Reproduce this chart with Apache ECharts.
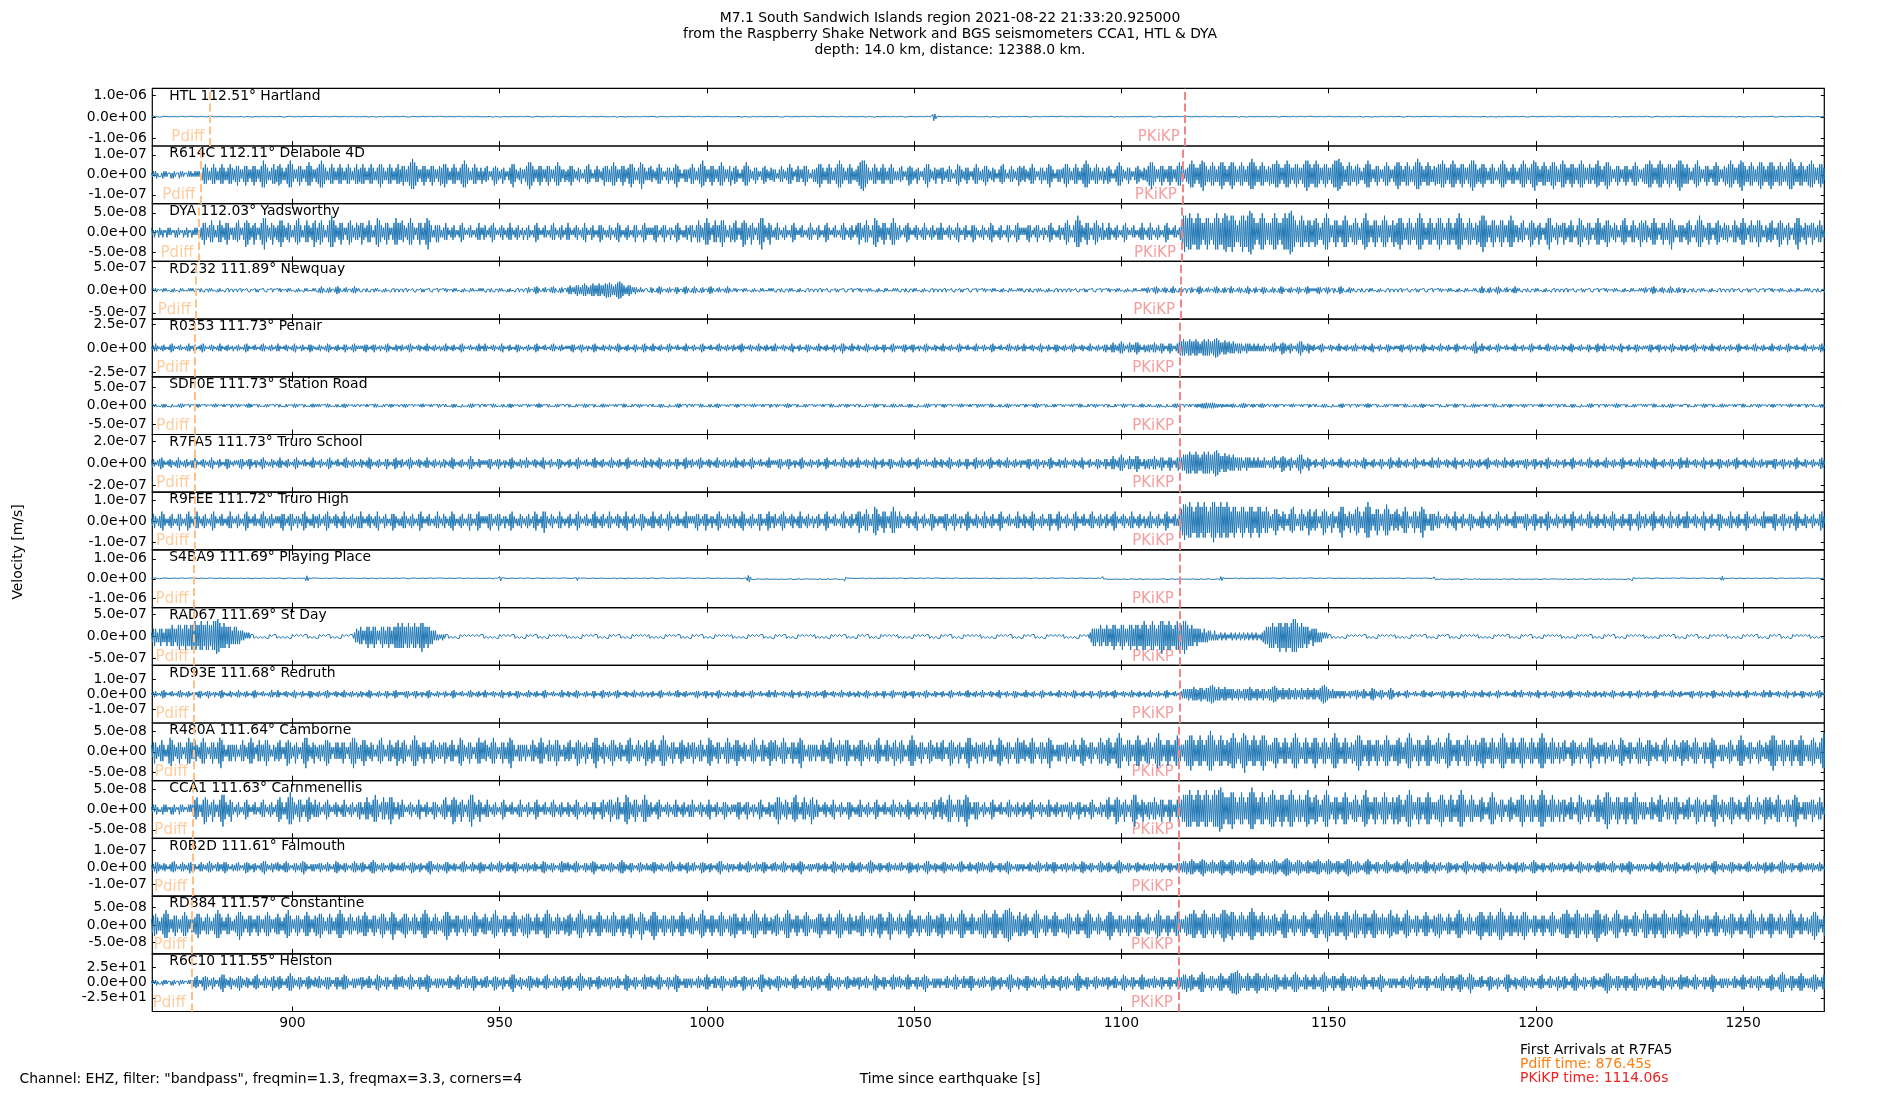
<!DOCTYPE html>
<html>
<head>
<meta charset="utf-8">
<script src="https://cdn.jsdelivr.net/npm/echarts@6/dist/echarts.min.js"></script>
<style>html,body{margin:0;padding:0;background:#fff}#c{width:1900px;height:1100px}</style>
</head>
<body>
<div id="c"></div>
<script>
// ---------- DATA ----------
const stationCodes = ['HTL','R614C','DYA','RD232','R0353','SDF0E','R7FA5','R9FEE','S4BA9','RAD67','RD93E','R480A','CCA1','R0B2D','RD884','R6C10'];
const distancesDeg = ['112.51','112.11','112.03','111.89','111.73','111.73','111.73','111.72','111.69','111.69','111.68','111.64','111.63','111.61','111.57','111.55'];
const placeNames = ['Hartland','Delabole 4D','Yadsworthy','Newquay','Penair','Station Road','Truro School','Truro High','Playing Place','St Day','Redruth','Camborne','Carnmenellis','Falmouth','Constantine','Helston'];
const yTickValues = [1e-6,1e-7,5e-8,5e-7,2.5e-7,5e-7,2e-7,1e-7,1e-6,5e-7,1e-7,5e-8,5e-8,1e-7,5e-8,25];
const yLimits = [1.34e-6,1.44e-7,7.3e-8,6.4e-7,3.0e-7,7.75e-7,2.66e-7,1.37e-7,1.45e-6,6.5e-7,1.9e-7,7.05e-8,7.1e-8,1.7e-7,8.25e-8,47.5];
// value of digit 9 in each trace string
const peakAmps = [1.67e-7,7.99e-8,5.49e-8,1.93e-7,1.01e-7,8.06e-8,1.20e-7,1.01e-7,1.66e-7,3.90e-7,6.12e-8,5.13e-8,5.41e-8,5.30e-8,4.78e-8,19.8];
const pdiffTimes = [880.1,877.9,877.5,876.8,876.45,876.45,876.45,876.4,876.3,876.3,876.25,876.1,876.0,875.9,875.8,875.6];
const pkikpTimes = [1115.4,1114.7,1114.5,1114.3,1114.06,1114.06,1114.06,1114.05,1114.0,1114.0,1113.98,1113.9,1113.9,1113.85,1113.8,1113.75];
const xTickValues = [900,950,1000,1050,1100,1150,1200,1250];
const xRange = [866.2, 1269.6];
const traceStart = 866;     // s, first peak of each trace
const peakSpacing = 0.25;   // s between successive peaks (alternating up/down)
const chunkSeconds = 10;    // each space-separated group covers 10 s

// successive peak amplitudes (0-9, digit 9 = peakAmps[i]), one 40-digit group per 10 s
const traceHTL = `1121221101122121101212211012212110112121 2112101221121012212110121221101211221012 1012112211012112110122121011211210112211 1121221101122121101212211012212110112121 2112101221121012212110121221101211221012 1012112211012112110122121011211210112211 1121221101122121101212211012212110112121 2112101221121012212110121221101211221012 1012112211012112110122121011211210112211 1121221101122121101212211012212110112121 2112101221121012212110121221101211221012 1012112211012112110122121011211210112211 1121221101122121101212211012212110112121 2112101221121012212110121221101211221012 1012112211012112110122121011211210112211 1121221101122121101212211012212110112121 2112101221121012212110121221101211221012 1012112211012112110122121011211210112211 1121221101122121101212211012212114798421 2112101221121012212110121221101211221012 1012112211012112110122121011211210112211 1121221101122121101212211012212110112121 2112101221121012212110121221101211221012 1012112211012112110122121011211210112211 1121221101122121101212211012212110112121 2112101221121012212110121221101211221012 1012112211012112110122121011211210112211 1121221101122121101212211012212110112121 2112101221121012212110121221101211221012 1012112211012112110122121011211210112211 1121221101122121101212211012212110112121 2112101221121012212110121221101211221012 1012112211012112110122121011211210112211 1121221101122121101212211012212110112121 2112101221121012212110121221101211221012 1012112211012112110122121011211210112211 1121221101122121101212211012212110112121 2112101221121012212110121221101211221012 1012112211012112110122121011211210112211 1121221101122121101212211012212110112121 2112101221121012212110121221101211221012`;
const traceR614C = `1121221101122121101212211012212110112121 1121212113456543234565432345654323456543 3456543234565432345654323457876543234565 3456654323456787643234565432345676543234 4567876543234565432345654323456543234565 3445654323456543234567654323456543234565 3456543456789876543234565432345654323456 4567654323456543234567876543234565432345 2344532123465543223543212345676432234532 3456787654323456543234565432345676543234 2334565432234432123455643212345432234654 5434567654323456543245676543234578654323 4354322345654321234543234567543212343432 4565432345678654323456543234567654323456 2345543212345676543223454321234554322343 3432123454322345654321345432345654321234 3445676543234565432345678765432345654323 3456788987654323456543234565432345654323 2344532123465543223543212345676432234532 3245432234543212356654322345432123456543 2334565432234432123455643212345432234654 4354322345654321234543234567543212343432 4567654323456543234567876543234565432345 2345543212345676543223454321234554322343 3456787654323456543234565432345676543234 4567876543456789765434567654345678765434 5678765434567654345678987654345676543456 4565678765434567876543456765434567898765 4567876543456765434567878998765434567654 3456654323456787643234565432345676543234 5678765434567654345678987654345676543456 4565678765434567876543456765434567898765 3445676543234565432345678765432345654323 4567876543456789765434567654345678765434 6787654345676543456787654345654345678654 3456787654323456543234565432345676543234 4565678765434567876543456765434567898765 4565432345678654323456543234567654323456 4567876543456789765434567654345678765434 5678765434567654345678987654345676543456 6787654345676543456787654345654345678654`;
const traceDYA = `2112101221121012212110121221101211221012 1121211223454322345432123454322345432123 2344532123465543223543212345676432234532 2334565432234432123455643212345432234654 2345543212345676543223454321234554322343 3245432234543212356654322345432123456543 4354322345654321234543234567543212343432 1223432112233211123443211122321112234321 2332112234432111223321122343211223321123 1123321112344321112232111233432112233211 2343211122332112234421112332111234332112 1233211223443211122332111234321112344321 2121233432112234321123211234432112123321 3432123454322345654321345432345654321234 2344532123465543223543212345676432234532 1223432112233211123443211122321112234321 1123321112344321112232111233432112233211 3245432234543212356654322345432123456543 2332112234432111223321122343211223321123 2343211122332112234421112332111234332112 1233211223443211122332111234321112344321 2121233432112234321123211234432112123321 2345543212345676543223454321234554322343 1223432112233211123443211122321112234321 1223432112233211123443211122321123467876 6787654567876543456765434567876545678876 5678765434567876567899876543456787654345 4567876543456787678998765434567654345654 3456654323456787643234565432345676543234 4565432345678654323456543234567654323456 3445676543234565432345678765432345654323 4567654323456543234567876543234565432345 3456787654323456543234565432345676543234 2344532123465543223543212345676432234532 3245432234543212356654322345432123456543 2334565432234432123455643212345432234654 4354322345654321234543234567543212343432 2345543212345676543223454321234554322343 3432123454322345654321345432345654321234 2344532123465543223543212345676432234532 3245432234543212356654322345432123456543`;
const traceRD232 = `1121221101122121101212211012212110112121 2112101221121012212110121221101211221012 1012112211012112110122121011211210112211 1121221101122121101212211012212110112121 1223432112233211123443211122321112234321 2112101221121012212110121221101211221012 1012112211012112110122121011211210112211 1121221101122121101212211012212110112121 2112101221121012212110121221101211221012 1123321112344321112232111233432112233211 2234543234565434567654345676545676545678 6787654567899876543456543234321232121121 1233211223443211122332111234321112344321 1223432112233211123443211122321112234321 1121221101122121101212211012212110112121 2112101221121012212110121221101211221012 1012112211012112110122121011211210112211 1121221101122121101212211012212110112121 2112101221121012212110121221101211221012 1012112211012112110122121011211210112211 1121221101122121101212211012212110112121 2112101221121012212110121221101211221012 1012112211012112110122121011211210112211 1121221101122121101212211012212110112121 2332112234432111223321122343211223321123 1123321112344321112232111233432112233211 2343211122332112234421112332111234332112 1233211223443211122332111234321112344321 2121233432112234321123211234432112123321 2112101221121012212110121221101211221012 1012112211012112110122121011211210112211 1121221101122121101212211012212110112121 1223432112233211123443211122321112234321 2112101221121012212110121221101211221012 1012112211012112110122121011211210112211 1121221101122121101212211012212110112121 2332112234432111223321122343211223321123 2112101221121012212110121221101211221012 1012112211012112110122121011211210112211 1121221101122121101212211012212110112121 2112101221121012212110121221101211221012`;
const traceR0353 = `1223432112233211123443211122321112234321 2332112234432111223321122343211223321123 1123321112344321112232111233432112233211 2343211122332112234421112332111234332112 1233211223443211122332111234321112344321 2121233432112234321123211234432112123321 2332112234432111223321122343211223321123 1223432112233211123443211122321112234321 2343211122332112234421112332111234332112 1123321112344321112232111233432112233211 2121233432112234321123211234432112123321 1233211223443211122332111234321112344321 1223432112233211123443211122321112234321 1123321112344321112232111233432112233211 2332112234432111223321122343211223321123 2343211122332112234421112332111234332112 1223432112233211123432112345432112234321 1233211223443211122332111234321112344321 2121233432112234321123211234432112123321 1223432112233211123443211122321112234321 1123321112344321112232111233432112233211 2343211122332112234421112332111234332112 2332112234432111223321122343211223321123 3432123454322345654321345432345654321234 2334323454322345432123454321234567678765 6787656787654567876787656789987654567654 6545654345454323454343234323432323432123 2344532123465543223543212345676432234532 2332112234432111223321122343211223321123 2343211122332112234421112332111234332112 2121233432112234321123211234432112123321 1223432112233211123443211122321112234565 1223432112233211123443211122321112234321 1123321112344321112232111233432112233211 1233211223443211122332111234321112344321 2343211122332112234421112332111234332112 2121233432112234321123211234432112123321 2332112234432111223321122343211223321123 1123321112344321112232111233432112233211 1223432112233211123443211122321112234321 1123321112344321112232111233432112233211`;
const traceSDF0E = `2344532123465543223543212345676432234532 2334565432234432123455643212345432234654 2345543212345676543223454321234554322343 3245432234543212356654322345432123456543 4354322345654321234543234567543212343432 3432123454322345654321345432345654321234 2334565432234432123455643212345432234654 2344532123465543223543212345676432234532 4354322345654321234543234567543212343432 2345543212345676543223454321234554322343 3245432234543212356654322345432123456543 3432123454322345654321345432345654321234 2344532123465543223543212345676432234532 4354322345654321234543234567543212343432 2334565432234432123455643212345432234654 2345543212345676543223454321234554322343 3432123454322345654321345432345654321234 3245432234543212356654322345432123456543 2344532123465543223543212345676432234532 2334565432234432123455643212345432234654 4354322345654321234543234567543212343432 2345543212345676543223454321234554322343 3432123454322345654321345432345654321234 3245432234543212356654322345432123456543 2344532123465543223543212345676432234532 3454323456545678789876789876565456543454 3456654323456787643234565432345676543234 2334565432234432123455643212345432234654 2344532123465543223543212345676432234532 2345543212345676543223454321234554322343 4354322345654321234543234567543212343432 3245432234543212356654322345432123456543 3432123454322345654321345432345654321234 2334565432234432123455643212345432234654 2344532123465543223543212345676432234532 2345543212345676543223454321234554322343 4354322345654321234543234567543212343432 3245432234543212356654322345432123456543 3432123454322345654321345432345654321234 2334565432234432123455643212345432234654 2344532123465543223543212345676432234532`;
const traceR7FA5 = `2332112234432111223321122343211223321123 2343211122332112234421112332111234332112 2121233432112234321123211234432112123321 1223432112233211123443211122321112234321 1123321112344321112232111233432112233211 1233211223443211122332111234321112344321 2332112234432111223321122343211223321123 1233211223443211122332111234543211123321 2121233432112234321123211234432112123321 2343211122332112234421112332111234332112 1123321112344321112232111233432112233211 1223432112233211123443211122321112234321 1233211223443211122332111234321112344321 2332112234432111223321122343211223321123 1223432112233211123443211122321112234321 2121233432112234321123211234432112123321 1123321112344321112232111233432112233211 2343211122332112234421112332111234332112 1223432112233211123443211122321112234321 1233211223443211122332111234321112344321 2332112234432111223321122343211223321123 2121233432112234321123211234432112123321 2343211122332112234421112332111234332112 3432123454322345654321345432345654321234 2334323454322345432123454321234543456567 6787656787654567876787656789987654567654 6545654345454323454343234323432323432123 2344532123465543223543212345676432234532 1123321112344321112232111233432112233211 1233211223443211122332111234321112344321 1223432112233211123443211122321112234321 2343211122332112234421112332111234332112 2332112234432111223321122343211223321123 2121233432112234321123211234432112123321 1123321112344321112232111233432112233211 1223432112233211123443211122321112234321 1233211223443211122332111234321112344321 2343211122332112234421112332111234332112 2332112234432111223321122343211223321123 2121233432112234321123211234432112123321 1123321112344321112232111233432112233211`;
const traceR9FEE = `1233211223443211122332111234321112344321 1223432112233211123443211122321112234321 1123321112344321112232111233432112233211 2121233432112234321123211234432112123321 2332112234432111223321122343211223321123 2343211122332112234421112332111234332112 1223432112233211123443211122321112234321 1233211223443211122332111234321112344321 2121233432112234321123211234432112123321 1223321123443211234543211233211123432112 1123321112344321112232111233432112233211 2343211122332112234421112332111234332112 1223432112233211123443211122321112234321 2121233432112234321123211234432112123321 1233211223443211122332111234321112344321 2332112234432111223321122343211223321123 1123321112344321112232111233432112233211 3245432234543212356654322345432123456543 2343211122332112234421112332111234332112 2121233432112234321123211234432112123321 1223432112233211123443211122321112234321 1233211223443211122332111234321112344321 1123321112344321112232111233432112233211 2332112234432111223321122343211223321123 1223432112233211123443211122321234567876 6787654567876567876545678987656787656787 6545676543456765434567654345676543456543 2334565432234432123455643212345432234654 2344532123465543223543212345676432234532 3456654323456787643234565432345676543234 4354322345654321234543234567543212343432 2343211122332112234421112332111234332112 1223432112233211123443211122321112234321 2121233432112234321123211234432112123321 1123321112344321112232111233432112233211 1233211223443211122332111234321112344321 2332112234432111223321122343211223321123 2343211122332112234421112332111234332112 1223432112233211123443211122321112234321 2121233432112234321123211234432112123321 1123321112344321112232111233432112233211`;
const traceS4BA9 = `1121221101122121101212211012212110112121 2112101221121012212110121221101211221012 1012112211012112110122121011211210112211 1121221101122121101212211012258521112121 2112101221121012212110121221101211221012 1012112211012112110122121011211210112211 1121221101122121101212211012212110112121 2112101221121012212110121221101211221012 1012112211012113663122121011211210112211 1121221101122121101212211012212110112121 2112101221353012212110121221101211221012 1012112211012112110122121011211210112211 1121221101122121101212211012212110112121 2112101221121012212110121221101211221012 1012112211012125995212121011211210112211 1121221101122121101212211012212110112121 2112101221121012212110121221364111221012 1012112211012112110122121011211210112211 1121221101122121101212211012212110112121 2112101221121012212110121221101211221012 1012112211012112110122121011211210112211 1121221101122121101212211012212110112121 2112101221121012212110121221101211221361 1012112211012112110122121011211210112211 1121221101122121101212211012212110112121 2112101221121012212110121221101365311012 1012112211012112110122121011211210112211 1121221101122121101212211012212110112121 2112101221121012212110121221101211221012 1012112211012112110122121011211210112211 1121221101122121101212211012212110111352 2112101221121012212110121221101211221012 1012112211012112110122121011211210112211 1121221101122121101212211012212110112121 2112101221121012212110121221101211221012 1012112211012112110122121011363110112211 1121221101122121101212211012212110112121 2112101221121012212110121221101211247421 1012112211012112110122121011211210112211 1121221101122121101212211012212110112121 2112101221121012212110121221101211221012`;
const traceRAD67 = `2345432345432345434565434567654567654567 6787656787656787656787899876567654565434 5454343232212121101100110011001101100110 1100110011001101100110011001101100110011 0110011001101100110011011001100110112343 3454323456543456543234565434565434565676 5676545676545676545678765456543432321211 1211101100110011011001100110011001100110 1100110011001101100110011001101100110011 0110011001101100110011011001100110011001 1100110011001101100110011001101100110011 0110011001101100110011011001100110011001 1100110011001101100110011001101100110011 0110011001101100110011011001100110011001 1100110011001101100110011001101100110011 0110011001101100110011011001100110011001 1100110011001101100110011001101100110011 0110011001101100110011011001100110011001 1100110011001101100110011001101100110011 0110011001101100110011011001100110011001 1100110011001101100110011001101100110011 0110011001101100110011011001100110011001 1100110011001101100110011123454543456543 4565434567654345676543456765456765456787 6545678765456789876567876545678765678987 6545654345434323432332321232121122112211 1122112211221122112211221122111223345456 5676545678765678765678989876567654565432 4543432323212121101100110011001101100110 0110011001101100110011011001100110011001 1100110011001101100110011001101100110011 0110011001101100110011011001100110011001 1100110011001101100110011001101100110011 0110011001101100110011011001100110011001 1100110011001101100110011001101100110011 0110011001101100110011011001100110011001 1100110011001101100110011001101100110011 0110011001101100110011011001100110011001 1100110011001101100110011001101100110011 0110011001101100110011011001100110011001 1100110011001101100110011001101100110011`;
const traceRD93E = `1123321112344321112232111233432112233211 2121233432112234321123211234432112123321 1223432112233211123443211122321112234321 2343211122332112234421112332111234332112 2332112234432111223321122343211223321123 1233211223443211122332111234321112344321 2121233432112234321123211234432112123321 1123321112344321112232111233432112233211 2343211122332112234421112332111234332112 1223432112233211123443211122321112234321 1233211223443211122332111234321112344321 2332112234432111223321122343211223321123 1123321112344321112232111233432112233211 2121233432112234321123211234432112123321 1223432112233211123443211122321112234321 2343211122332112234421112332111234332112 2332112234432111223321122343211223321123 1233211223443211122332111234321112344321 2121233432112234321123211234432112123321 1123321112344321112232111233432112233211 2343211122332112234421112332111234332112 1223432112233211123443211122321112234321 1233211223443211122332111234321112344321 2332112234432111223321122343211223321123 1223432112233211123443211122321123345454 5654567656456765456767899876567654567654 5456543456543456545676543456543456543456 5678876543456543456543456543456543456543 4565434567899876543454343234323432123432 3245432234543212356654322345432123456543 1123321112344321112232111233432112233211 2121233432112234321123211234432112123321 1223432112233211123443211122321112234321 2343211122332112234421112332111234332112 2332112234432111223321122343211223321123 1233211223443211122332111234321112344321 1123321112344321112232111233432112233211 2121233432112234321123211234432112123321 1223432112233211123443211122321112234321 2343211122332112234421112332111234332112 2332112234432111223321122343211223321123`;
const traceR480A = `3245432234543212356654322345432123456543 4354322345654321234543234567543212343432 3432123454322345654321345432345654321234 2344532123465543223543212345676432234532 2334323456554321234343234543212345676543 2334565432234432123455643212345432234654 2345543212345676543223454321234554322343 3245432234543212356654322345432123456543 4354322345654321234543234567543212343432 3432123454322345654321345432345654321234 2344532123465543223543212345676432234532 2334565432234432123455643212345432234654 2345543212345676543223454321234554322343 3245432234543212356654322345432123456543 2334565432234432123455643212345432234654 4354322345654321234543234567543212343432 3432123454322345654321345432345654321234 2334565432234432123455643212345432234654 2345543212345676543223454321234554322343 2344532123465543223543212345676432234532 3245432234543212356654322345432123456543 4354322345654321234543234567543212343432 3245432234543212356654322345432123456543 3456654323456787643234565432345676543234 4565432345678654323456543234567654323456 5678765434567654345678987654345676543456 4567876543456789765434567654345678765434 3445676543234565432345678765432345654323 4567654323456543234567876543234565432345 3456787654323456543234565432345676543234 3456654323456787643234565432345676543234 4565432345678654323456543234567654323456 3445676543234565432345678765432345654323 4567654323456543234567876543234565432345 2344532123465543223543212345676432234532 3245432234543212356654322345432123456543 2334565432234432123455643212345432234654 4354322345654321234543234567543212343432 2345543212345676543223454321234554322343 3456787654323456543234565432345676543234 3456654323456787643234565432345676543234`;
const traceCCA1 = `1121221101122121101212211012212110112121 2344532123465543223543212345676432234532 1123321112344321112232111233432112233211 2345543212345676543223454321234554322343 2332112234432111223321122343211223321123 3432123454322345654321345432345654321234 2343211122332112234421112332111234332112 2344532123465543223543212345676432234532 1223432112233211123443211122321112234321 1123321112344321112232111233432112233211 1233211223443211122332111234321112344321 3245432234543212356654322345432123456543 2332112234432111223321122343211223321123 2343211122332112234421112332111234332112 2121233432112234321123211234432112123321 2334565432234432123455643212345432234654 2343211122332112234421112332111234332112 1223432112233211123443211122321112234321 1233211223443211122332111234321112344321 4354322345654321234543234567543212343432 1123321112344321112232111233432112233211 2332112234432111223321122343211223321123 2121233432112234321123211234432112123321 2344532123465543223543212345676432234532 2334323454322345432123454321234543456567 6787654567876545678765456787678998765456 5678765434567654345678987654345676543456 6787654345676543456787654345654345678654 3456654323456787643234565432345676543234 4565432345678654323456543234567654323456 3456654323456787643234565432345676543234 3445676543234565432345678765432345654323 2345543212345676543223454321234554322343 4567654323456543234567876543234565432345 3245432234543212356654322345432123456543 3456787654323456543234565432345676543234 3432123454322345654321345432345654321234 2344532123465543223543212345676432234532 2334565432234432123455643212345432234654 4354322345654321234543234567543212343432 3245432234543212356654322345432123456543`;
const traceR0B2D = `2334565432234432123455643212345432234654 3432123454322345654321345432345654321234 2344532123465543223543212345676432234532 4354322345654321234543234567543212343432 3245432234543212356654322345432123456543 2345543212345676543223454321234554322343 2344532123465543223543212345676432234532 2334565432234432123455643212345432234654 3432123454322345654321345432345654321234 3245432234543212356654322345432123456543 4354322345654321234543234567543212343432 2345543212345676543223454321234554322343 2334565432234432123455643212345432234654 2344532123465543223543212345676432234532 3432123454322345654321345432345654321234 4354322345654321234543234567543212343432 3245432234543212356654322345432123456543 2345543212345676543223454321234554322343 2344532123465543223543212345676432234532 2334565432234432123455643212345432234654 4354322345654321234543234567543212343432 3432123454322345654321345432345654321234 3245432234543212356654322345432123456543 2345543212345676543223454321234554322343 2334323454322345432123454321234543456567 4567876543456789765434567654345678765434 5678765434567654345678987654345676543456 4567876543456789987654345678765434567654 4565678765434567876543456765434567898765 3456654323456787643234565432345676543234 4565432345678654323456543234567654323456 2344532123465543223543212345676432234532 2334565432234432123455643212345432234654 2345543212345676543223454321234554322343 3245432234543212356654322345432123456543 4354322345654321234543234567543212343432 3432123454322345654321345432345654321234 2344532123465543223543212345676432234532 2334565432234432123455643212345432234654 2345543212345676543223454321234554322343 3245432234543212356654322345432123456543`;
const traceRD884 = `3456654323456787643234565432345676543234 3445676543234565432345678765432345654323 3456787654323456543234565432345676543234 4565432345678654323456543234567654323456 4567654323456543234567876543234565432345 5434567654323456543245676543234578654323 3445676543234565432345678765432345654323 3456787654323456543234565432345676543234 4565432345678654323456543234567654323456 4567654323456543234567876543234565432345 3456654323456787643234565432345676543234 5434567654323456543245676543234578654323 3456787654323456543234565432345676543234 4565432345678654323456543234567654323456 4567654323456543234567876543234565432345 3456654323456787643234565432345676543234 3445676543234565432345678765432345654323 5434567654323456543245676543234578654323 4565432345678654323456543234567654323456 4567654323456543234567876543234565432345 4567876543456787654345678789987654345676 3456654323456787643234565432345676543234 3445676543234565432345678765432345654323 3456787654323456543234565432345676543234 4565432345678654323456543234567654323456 4565678765434567876543456765434567898765 5678765434567654345678987654345676543456 3456654323456787643234565432345676543234 4567876543456789765434567654345678765434 6787654345676543456787654345654345678654 4565432345678654323456543234567654323456 4567654323456543234567876543234565432345 5678765434567654345678987654345676543456 3456787654323456543234565432345676543234 4565678765434567876543456765434567898765 3456654323456787643234565432345676543234 6787654345676543456787654345654345678654 4565432345678654323456543234567654323456 3445676543234565432345678765432345654323 4567654323456543234567876543234565432345 3456787654323456543234565432345676543234`;
const traceR6C10 = `1121221101122121101212211012212110112123 2344532123465543223543212345676432234532 2334565432234432123455643212345432234654 2345543212345676543223454321234554322343 3454322345454321234543234565543212343432 3245432234543212356654322345432123456543 4354322345654321234543234567543212343432 3432123454322345654321345432345654321234 2344532123465543223543212345676432234532 2334565432234432123455643212345432234654 2345543212345676543223454321234554322343 3245432234543212356654322345432123456543 4354322345654321234543234567543212343432 3432123454322345654321345432345654321234 2344532123465543223543212345676432234532 2334565432234432123455643212345432234654 2345543212345676543223454321234554322343 3245432234543212356654322345432123456543 4354322345654321234543234567543212343432 3432123454322345654321345432345654321234 2344532123465543223543212345676432234532 2334565432234432123455643212345432234654 2345543212345676543223454321234554322343 3245432234543212356654322345432123456543 2334323454322345432123454321234543456567 3456654323456787643234565432345676543234 5678788998765434567654345678765434567654 3445676543234565432345678765432345654323 4565432345678654323456543234567654323456 4354322345654321234543234567543212343432 3432123454322345654321345432345654321234 5434567654323456543245676543234578654323 2344532123465543223543212345676432234532 2334565432234432123455643212345432234654 2345543212345676543223454321234554322343 3456787654323456543234565432345676543234 3245432234543212356654322345432123456543 4354322345654321234543234567543212343432 3432123454322345654321345432345654321234 3456654323456787643234565432345676543234 3445676543234565432345678765432345654323`;
const traces = [traceHTL, traceR614C, traceDYA, traceRD232, traceR0353, traceSDF0E, traceR7FA5, traceR9FEE, traceS4BA9, traceRAD67, traceRD93E, traceR480A, traceCCA1, traceR0B2D, traceRD884, traceR6C10];

const titleLines = ['M7.1 South Sandwich Islands region 2021-08-22 21:33:20.925000', 'from the Raspberry Shake Network and BGS seismometers CCA1, HTL & DYA', 'depth: 14.0 km, distance: 12388.0 km.'];
const footerText = 'Channel: EHZ, filter: "bandpass", freqmin=1.3, freqmax=3.3, corners=4';
const xLabelText = 'Time since earthquake [s]';
const yLabelText = 'Velocity [m/s]';
const arrivalLines = ['First Arrivals at R7FA5', 'Pdiff time: 876.45s', 'PKiKP time: 1114.06s'];

// ---------- LAYOUT / STYLE ----------
const FF = '"DejaVu Sans", sans-serif';
const FS = 13.9;
const LEFT = 152.3, RIGHT = 75.7, TOP0 = 88.3, PH = 57.7;
const TRACE_COLOR = '#1f77b4';
const PDIFF_COLOR = '#ffbf86';
const PKIKP_COLOR = '#f28686';

function fmtExp(v) {
  return Number(v).toExponential(1).replace(/e([+-])(\d)$/, 'e$10$2');
}
function decodeTrace(str, amp) {
  const pts = [];
  let n = 0;
  str.trim().split(/\s+/).forEach((chunk, j) => {
    for (let k = 0; k < chunk.length; k++) {
      const t = traceStart + chunkSeconds * j + peakSpacing * k;
      const sign = (n % 2 === 0) ? 1 : -1;
      pts.push([t, sign * (+chunk[k]) * amp / 9]);
      n++;
    }
  });
  return pts;
}

const grids = [], xAxes = [], yAxes = [], series = [], graphics = [];
for (let i = 0; i < 16; i++) {
  const top = TOP0 + i * PH;
  const ymax = yLimits[i];
  const yt = yTickValues[i];
  grids.push({left: LEFT, right: RIGHT, top: top, height: PH, show: true, borderColor: '#000', borderWidth: 1.2, backgroundColor: 'transparent', containLabel: false, outerBoundsMode: 'none'});
  const xBase = {gridIndex: i, type: 'value', min: xRange[0], max: xRange[1], axisLine: {show: false, onZero: false}, splitLine: {show: false},
    axisTick: {show: true, inside: true, length: 5, customValues: xTickValues, lineStyle: {color: '#000', width: 1}}};
  xAxes.push(Object.assign({}, xBase, {position: 'bottom',
    axisLabel: {show: i === 15, customValues: xTickValues, margin: 5, fontSize: FS, color: '#000', fontFamily: FF, formatter: v => String(v)}}));
  xAxes.push(Object.assign({}, xBase, {position: 'top', axisLabel: {show: false}}));
  const yCustom = [-yt, 0, yt];
  const yBase = {gridIndex: i, type: 'value', min: -ymax, max: ymax, axisLine: {show: false, onZero: false}, splitLine: {show: false},
    axisTick: {show: true, inside: true, length: 3.5, customValues: yCustom, lineStyle: {color: '#000', width: 1}}};
  yAxes.push(Object.assign({}, yBase, {position: 'left',
    axisLabel: {show: true, customValues: yCustom, margin: 5.5, fontSize: FS, color: '#000', fontFamily: FF, formatter: fmtExp}}));
  yAxes.push(Object.assign({}, yBase, {position: 'right', axisLabel: {show: false}}));

  series.push({
    type: 'line', xAxisIndex: 2 * i, yAxisIndex: 2 * i,
    data: decodeTrace(traces[i], peakAmps[i]),
    symbol: 'none', showSymbol: false, silent: true, animation: false, clip: true,
    lineStyle: {width: 1, color: TRACE_COLOR},
    markLine: {
      symbol: ['none', 'none'], silent: true, animation: false, label: {show: false},
      lineStyle: {type: [8, 3.5], width: 2},
      data: [
        {xAxis: pdiffTimes[i], lineStyle: {color: PDIFF_COLOR, type: [8, 3.5], width: 2}},
        {xAxis: pkikpTimes[i], lineStyle: {color: PKIKP_COLOR, type: [8, 3.5], width: 2}}
      ]
    }
  });
  const yLab = -0.7 * ymax;
  series.push({
    type: 'scatter', xAxisIndex: 2 * i, yAxisIndex: 2 * i, symbol: 'circle', symbolSize: 1, silent: true, animation: false, clip: false,
    itemStyle: {color: 'rgba(255,255,255,0)'},
    label: {show: true, position: 'left', distance: 5, fontSize: 15, fontFamily: FF},
    data: [
      {value: [pdiffTimes[i], yLab], label: {formatter: 'Pdiff', color: PDIFF_COLOR}},
      {value: [pkikpTimes[i], yLab], label: {formatter: 'PKiKP', color: PKIKP_COLOR}}
    ]
  });
  graphics.push({type: 'text', x: LEFT + 17, y: top + 7.6, silent: true,
    style: {text: stationCodes[i] + ' ' + distancesDeg[i] + '\u00b0 ' + placeNames[i], fill: '#000', fontSize: FS, fontFamily: FF, textAlign: 'left', textVerticalAlign: 'middle'}});
}

titleLines.forEach((t, k) => {
  graphics.push({type: 'text', x: 950, y: 18 + k * 16, silent: true,
    style: {text: t, fill: '#000', fontSize: FS, fontFamily: FF, textAlign: 'center', textVerticalAlign: 'middle'}});
});
graphics.push({type: 'text', x: 19.5, y: 1079, silent: true,
  style: {text: footerText, fill: '#000', fontSize: FS, fontFamily: FF, textAlign: 'left', textVerticalAlign: 'middle'}});
graphics.push({type: 'text', x: 950, y: 1079, silent: true,
  style: {text: xLabelText, fill: '#000', fontSize: FS, fontFamily: FF, textAlign: 'center', textVerticalAlign: 'middle'}});
graphics.push({type: 'text', x: 18, y: 552, rotation: Math.PI / 2, silent: true,
  style: {text: yLabelText, fill: '#000', fontSize: FS, fontFamily: FF, textAlign: 'center', textVerticalAlign: 'middle'}});
const arrColors = ['#000', '#ff7f0e', '#ee2222'];
arrivalLines.forEach((t, k) => {
  graphics.push({type: 'text', x: 1520, y: 1050.5 + k * 14, silent: true,
    style: {text: t, fill: arrColors[k], fontSize: FS, fontFamily: FF, textAlign: 'left', textVerticalAlign: 'middle'}});
});

const chart = echarts.init(document.getElementById('c'), null, {renderer: 'canvas', width: 1900, height: 1100});
chart.setOption({
  animation: false,
  backgroundColor: '#fff',
  grid: grids,
  xAxis: xAxes,
  yAxis: yAxes,
  series: series,
  graphic: graphics
});
</script>
</body>
</html>
